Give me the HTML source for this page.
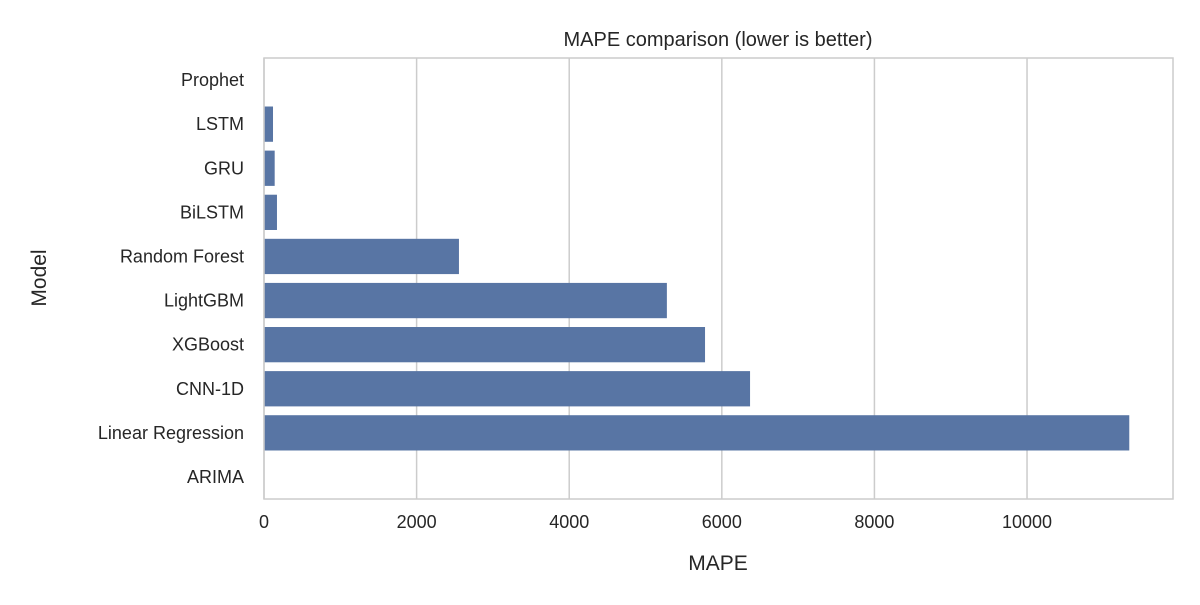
<!DOCTYPE html>
<html><head><meta charset="utf-8"><style>
html,body{margin:0;padding:0;background:#fff;}
svg text{font-family:"Liberation Sans","DejaVu Sans",sans-serif;fill:#262626;}
</style></head><body>
<svg id="chart" width="1200" height="600" xmlns="http://www.w3.org/2000/svg">
<text x="718" y="46" font-size="20" text-anchor="middle">MAPE comparison (lower is better)</text>
<g id="grid"></g>
<g id="bars"></g>
<g id="ylabels"></g>
<g id="xlabels"></g>
<rect x="264" y="58" width="909" height="441" fill="none" stroke="#cccccc" stroke-width="1.5"/>
<text x="718" y="570" font-size="21" text-anchor="middle">MAPE</text>
<text x="46" y="278" font-size="21" text-anchor="middle" transform="rotate(-90 46 278)">Model</text>
</svg>
<script>
const categories = ["Prophet","LSTM","GRU","BiLSTM","Random Forest","LightGBM","XGBoost","CNN-1D","Linear Regression","ARIMA"];
const mapeValues = [0,118,140,170,2555,5280,5780,6370,11340,0];
const xTicks = [0,2000,4000,6000,8000,10000];
const xTickLabels = ["0","2000","4000","6000","8000","10000"];

(function(){
const NS="http://www.w3.org/2000/svg";
const plotLeft=264,plotRight=1173,plotTop=58,plotBottom=499,xMax=11913;
const xs=v=>plotLeft+(v/xMax)*(plotRight-plotLeft);
const band=(plotBottom-plotTop)/categories.length;
const ys=i=>plotTop+band*i;
function mk(tag,attrs,parent){const e=document.createElementNS(NS,tag);for(const k in attrs)e.setAttribute(k,attrs[k]);parent.appendChild(e);return e;}
const grid=document.getElementById('grid'),bars=document.getElementById('bars'),yl=document.getElementById('ylabels'),xl=document.getElementById('xlabels');
xTicks.forEach((t,i)=>{
  const l=mk('line',{x1:xs(t),x2:xs(t),y1:plotTop,y2:plotBottom,stroke:'#cccccc','stroke-width':1.5},grid);
  
  
  const tx=mk('text',{x:xs(t),y:plotBottom+29,'font-size':18,'text-anchor':'middle'},xl);
  tx.textContent=xTickLabels[i];
  
  
});
categories.forEach((c,i)=>{
  const h=band*0.8;
  const r=mk('rect',{x:xs(0),y:ys(i)+band*0.1,width:Math.max(0,xs(mapeValues[i])-xs(0)),height:h,fill:'#5875a4'},bars);
  
  
  const t=mk('text',{x:plotLeft-20,y:ys(i)+band/2+6,'font-size':18,'text-anchor':'end'},yl);
  t.textContent=c;
  
  
});
})();
</script>
</body></html>
